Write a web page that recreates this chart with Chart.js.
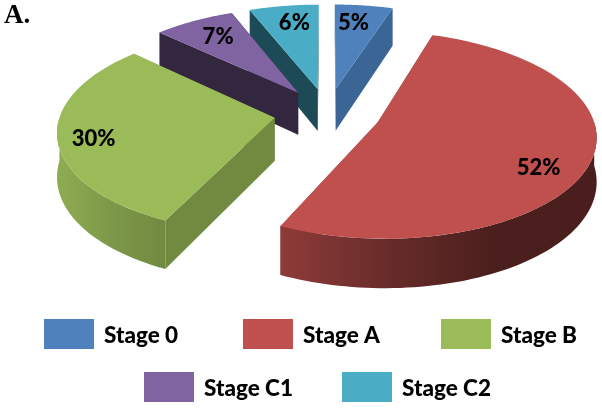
<!DOCTYPE html>
<html>
<head>
<meta charset="utf-8">
<style>
  html, body { margin: 0; padding: 0; background: #fff; }
  canvas { display: block; }
</style>
<script src="https://cdn.jsdelivr.net/npm/chart.js@4"></script>
</head>
<body>
<canvas id="stageChart" width="602" height="408"></canvas>
<script>
const stageLabels = ["Stage 0", "Stage A", "Stage B", "Stage C1", "Stage C2"];
const stagePercents = [5, 52, 30, 7, 6];
const stageColors = ["#4f81bd", "#c0504d", "#9bbb59", "#8064a2", "#4bacc6"];
const cutWallColors = ["#3a6594", "#7f3533", "#728a40", "#33263f", "#1c4a57"];
const outerWallShades = [
  ["#3a6594", "#3a6594"],
  ["#8e3b39", "#682c2a", "#4b1f1d", "#4a1e1c"],
  ["#8fac52", "#7d9848", "#728a40"],
  ["#33263f", "#33263f"],
  ["#1c4a57", "#1c4a57"],
];

// tilted pie: plane maps to the page with a little perspective
const VIEW = { cx: 327.5, cy: 113, a: 214, b: 100, p: 0.12, depth: 43, explode: 0.25 };
const QUARTER = Math.PI / 2;

function project(wx, wy) {
  const w = 1 + VIEW.p * wy;
  return { x: VIEW.cx + VIEW.a * wx / w, y: VIEW.cy - VIEW.b * wy / w, drop: VIEW.depth / w };
}

// angle is clockwise from 12 o'clock, slice is pushed out along its middle
function slicePoint(mid, angle, radius) {
  return project(
    VIEW.explode * Math.sin(mid) + radius * Math.sin(angle),
    VIEW.explode * Math.cos(mid) + radius * Math.cos(angle)
  );
}

function sliceAngles(arc) {
  const start = arc.startAngle + QUARTER;
  const end = arc.endAngle + QUARTER;
  return { start, end, mid: (start + end) / 2 };
}

function fillPolygon(ctx, points, fill) {
  ctx.beginPath();
  points.forEach((pt, i) => (i ? ctx.lineTo(pt.x, pt.y) : ctx.moveTo(pt.x, pt.y)));
  ctx.closePath();
  ctx.fillStyle = fill;
  ctx.fill();
}

function sampleArc(mid, from, to) {
  const steps = 72;
  const points = [];
  for (let i = 0; i <= steps; i++) {
    points.push(slicePoint(mid, from + (to - from) * i / steps, 1));
  }
  return points;
}

const lowered = (pt) => ({ x: pt.x, y: pt.y + pt.drop });

class Arc3d extends Chart.ArcElement {
  static id = "arc3d";
  static defaults = Chart.ArcElement.defaults;

  draw(ctx) {
    const { start, end, mid } = sliceAngles(this);
    const apex = slicePoint(mid, 0, 0);
    const index = this.$index;

    // the two straight cut faces
    [start, end].forEach((angle) => {
      const rim = slicePoint(mid, angle, 1);
      fillPolygon(ctx, [apex, rim, lowered(rim), lowered(apex)], cutWallColors[index]);
    });

    // the curved outer face, only the part turned to the viewer
    const from = Math.max(start, QUARTER);
    const to = Math.min(end, 3 * QUARTER);
    if (from < to) {
      const rimPoints = sampleArc(mid, from, to);
      const xs = rimPoints.map((pt) => pt.x);
      const shade = ctx.createLinearGradient(Math.min(...xs), 0, Math.max(...xs), 0);
      const stops = outerWallShades[index];
      stops.forEach((color, i) => shade.addColorStop(i / (stops.length - 1), color));
      fillPolygon(ctx, rimPoints.concat(rimPoints.map(lowered).reverse()), shade);
    }

    // top face
    fillPolygon(ctx, [apex].concat(sampleArc(mid, start, end)), this.options.backgroundColor);
  }
}

class Pie3dController extends Chart.PieController {
  static id = "pie3d";
  static defaults = { ...Chart.PieController.defaults, dataElementType: "arc3d" };
  static overrides = Chart.PieController.overrides;

  draw() {
    const elements = this._cachedMeta.data.slice();
    elements.forEach((arc, i) => { arc.$index = i; });
    // back slices first
    elements.sort((p, q) => Math.cos(sliceAngles(q).mid) - Math.cos(sliceAngles(p).mid));
    elements.forEach((arc) => arc.draw(this._ctx));
  }
}

Chart.register(Arc3d, Pie3dController);

const percentLabelPlugin = {
  id: "percentLabels",
  afterDatasetsDraw(chart) {
    const ctx = chart.ctx;
    const nudges = [[-5, 1], [-8, 14], [1, 5], [3, 1], [4, 1]];
    const radii = [0.79, 0.8, 0.84, 0.78, 0.79];
    ctx.save();
    ctx.font = "900 22px Lato";
    ctx.fillStyle = "#000";
    ctx.textAlign = "center";
    ctx.textBaseline = "middle";
    chart.getDatasetMeta(0).data.forEach((arc, i) => {
      const { mid } = sliceAngles(arc);
      const at = slicePoint(mid, mid, radii[i]);
      ctx.fillText(stagePercents[i] + "%", at.x + nudges[i][0], at.y + nudges[i][1]);
    });
    ctx.restore();
  },
};

// two centred rows with an even pitch, the built-in legend wraps these too early
const legendPlugin = {
  id: "stageLegend",
  afterDraw(chart) {
    const ctx = chart.ctx;
    const slots = [[44, 319], [243, 319], [441, 319], [144, 372], [342, 372]];
    ctx.save();
    ctx.font = "900 22.5px Lato";
    ctx.textBaseline = "middle";
    ctx.textAlign = "left";
    stageLabels.forEach((label, i) => {
      const [x, y] = slots[i];
      ctx.fillStyle = stageColors[i];
      ctx.fillRect(x, y, 50, 30);
      ctx.fillStyle = "#000";
      ctx.fillText(label, x + 60, y + 17);
    });
    ctx.restore();
  },
};

new Chart(document.getElementById("stageChart"), {
  type: "pie3d",
  data: {
    labels: stageLabels,
    datasets: [{ data: stagePercents, backgroundColor: stageColors, borderWidth: 0 }],
  },
  options: {
    responsive: false,
    animation: false,
    layout: { padding: { left: 4, top: 0 } },
    plugins: {
      legend: { display: false },
      tooltip: { enabled: false },
      title: {
        display: true,
        text: "A.",
        align: "start",
        color: "#000",
        font: { family: "Liberation Serif", size: 27, weight: "bold" },
        padding: { top: 0, bottom: 0 },
      },
    },
  },
  plugins: [percentLabelPlugin, legendPlugin],
});
</script>
</body>
</html>
